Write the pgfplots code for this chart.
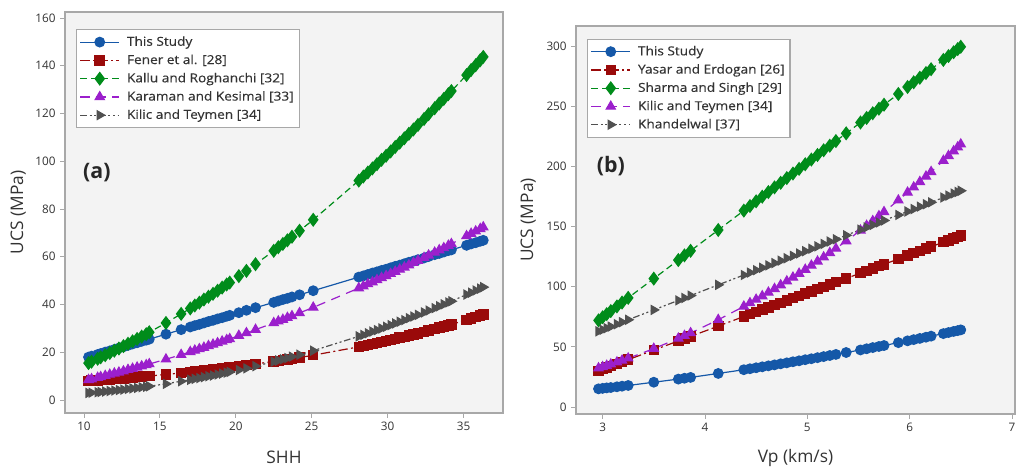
\documentclass[border=0pt]{standalone}
\usepackage{fontspec}
\setmainfont{Open Sans}
\newfontfamily\legfont{Open Sans}[FakeStretch=1.1, FakeBold=0.3]
\usepackage{pgfplots}
\usepackage{pgfplotstable}
\pgfplotsset{compat=1.18}

\definecolor{cStudy}{HTML}{1558A8}
\definecolor{cRed}{HTML}{9A0A0A}
\definecolor{cGreen}{HTML}{008C1A}
\definecolor{cPurple}{HTML}{9B1FCC}
\definecolor{cGray}{HTML}{505050}
\definecolor{bgGray}{HTML}{F3F3F3}
\definecolor{frameGray}{HTML}{A8A8A8}
\definecolor{textGray}{HTML}{333333}

% SHH panel: x  study  fener  kallu  karaman  kilic
\pgfplotstableread{
x    s     f     k      m     t
10.3 18.0  8.0   15.5   8.5   3.0
10.5 18.4  8.1   16.1   8.8   3.1
10.9 19.1  8.3   17.3   9.4   3.3
11.1 19.5  8.4   17.9   9.7   3.4
11.4 20.1  8.5   18.8   10.2  3.6
11.7 20.6  8.7   19.7   10.7  3.8
12.0 21.2  8.8   20.7   11.2  4.0
12.3 21.8  9.0   21.6   11.6  4.2
12.6 22.3  9.1   22.6   12.1  4.4
12.9 22.9  9.3   23.6   12.7  4.7
13.2 23.5  9.5   24.6   13.2  4.9
13.5 24.0  9.6   25.6   13.7  5.1
13.8 24.6  9.8   26.6   14.2  5.4
14.1 25.1  10.0  27.6   14.7  5.6
14.3 25.5  10.1  28.4   15.1  5.8
15.4 27.6  10.7  32.3   17.1  6.8
16.4 29.5  11.4  36.1   19.0  7.9
17.0 30.6  11.8  38.4   20.2  8.5
17.3 31.2  12.0  39.6   20.8  8.9
17.6 31.7  12.2  40.8   21.4  9.2
17.9 32.3  12.4  42.1   22.0  9.6
18.2 32.9  12.6  43.3   22.7  10.0
18.5 33.4  12.8  44.5   23.3  10.3
18.8 34.0  13.1  45.8   23.9  10.7
19.1 34.5  13.3  47.1   24.6  11.1
19.4 35.1  13.5  48.4   25.2  11.5
19.6 35.5  13.7  49.2   25.6  11.8
20.2 36.6  14.2  51.9   27.0  12.6
20.7 37.6  14.6  54.1   28.1  13.3
21.3 38.7  15.1  56.9   29.5  14.2
22.5 40.9  16.2  62.5   32.3  16.1
22.8 41.5  16.4  64.0   33.0  16.6
23.1 42.1  16.7  65.4   33.7  17.1
23.4 42.6  17.0  66.9   34.5  17.6
23.7 43.2  17.3  68.4   35.2  18.2
24.2 44.1  17.8  70.9   36.5  19.0
25.1 45.8  18.8  75.5   38.8  20.7
28.1 51.5  22.3  91.9   46.9  26.7
28.4 52.0  22.7  93.6   47.7  27.3
28.7 52.6  23.1  95.3   48.6  28.0
29.0 53.2  23.5  97.0   49.4  28.7
29.3 53.7  23.9  98.8   50.3  29.3
29.6 54.3  24.3  100.6  51.2  30.0
29.9 54.8  24.7  102.3  52.0  30.7
30.2 55.4  25.2  104.1  52.9  31.4
30.5 56.0  25.6  106.0  53.8  32.1
30.8 56.5  26.1  107.8  54.7  32.8
31.1 57.1  26.5  109.6  55.6  33.5
31.4 57.7  27.0  111.5  56.5  34.3
31.7 58.2  27.4  113.3  57.5  35.0
32.0 58.8  27.9  115.2  58.4  35.7
32.4 59.5  28.6  117.7  59.6  36.7
32.7 60.1  29.1  119.7  60.6  37.5
33.1 60.9  29.7  122.2  61.8  38.5
33.4 61.4  30.3  124.2  62.8  39.3
33.7 62.0  30.8  126.1  63.7  40.1
34.0 62.6  31.3  128.1  64.7  40.9
34.2 62.9  31.7  129.4  65.4  41.4
35.2 64.8  33.6  136.1  68.7  44.2
35.5 65.4  34.2  138.2  69.7  45.0
35.8 65.9  34.7  140.2  70.7  45.9
36.1 66.5  35.4  142.3  71.7  46.7
36.3 66.9  35.8  143.7  72.4  47.3
}\shhdata

% Vp panel: x  study  yasar  sharma  kilic  khandelwal
\pgfplotstableread{
x    s     y      sh     kt     kh
2.96 15.1  30.1   72.0   32.3   62.9
3.00 15.5  31.4   74.6   33.3   64.2
3.04 15.9  32.7   77.2   34.4   65.5
3.08 16.2  33.9   79.7   35.5   66.8
3.14 16.8  35.8   83.6   37.2   68.8
3.19 17.3  37.4   86.8   38.7   70.5
3.25 17.9  39.3   90.7   40.5   72.5
3.50 20.6  47.3   106.7  48.5   80.7
3.74 23.2  54.9   122.1  57.0   88.6
3.80 23.9  56.8   126.0  59.2   90.6
3.86 24.6  58.7   129.8  61.5   92.6
4.13 27.9  67.2   147.1  72.5   101.5
4.38 31.0  75.2   163.2  83.6   109.7
4.44 31.8  77.1   167.0  86.4   111.7
4.50 32.6  79.0   170.9  89.3   113.7
4.56 33.4  80.9   174.8  92.2   115.7
4.62 34.2  82.8   178.6  95.2   117.7
4.68 35.0  84.7   182.5  98.2   119.6
4.74 35.9  86.6   186.3  101.3  121.6
4.80 36.7  88.5   190.2  104.5  123.6
4.86 37.6  90.4   194.0  107.7  125.6
4.92 38.4  92.3   197.9  110.9  127.6
4.98 39.3  94.2   201.7  114.2  129.5
5.04 40.1  96.1   205.6  117.6  131.5
5.10 41.0  98.0   209.4  121.0  133.5
5.16 41.9  99.9   213.3  124.5  135.5
5.22 42.8  101.8  217.1  128.1  137.5
5.28 43.7  103.7  221.0  131.7  139.4
5.38 45.3  106.8  227.4  137.9  142.7
5.52 47.4  111.3  236.4  146.8  147.4
5.58 48.4  113.2  240.2  150.7  149.3
5.64 49.4  115.1  244.1  154.6  151.3
5.70 50.3  117.0  247.9  158.7  153.3
5.75 51.1  118.6  251.2  162.1  155.0
5.89 53.5  123.0  260.1  171.8  159.6
5.98 55.0  125.9  265.9  178.3  162.5
6.04 56.0  127.8  269.8  182.6  164.5
6.10 57.0  129.7  273.6  187.1  166.5
6.16 58.0  131.6  277.5  191.6  168.5
6.21 58.9  133.2  280.7  195.4  170.1
6.33 61.0  137.0  288.4  204.7  174.1
6.38 61.9  138.5  291.6  208.7  175.7
6.43 62.8  140.1  294.8  212.6  177.4
6.47 63.5  141.4  297.4  215.9  178.7
6.50 64.1  142.4  299.3  218.3  179.7
}\vpdata

\pgfplotsset{
  ucs/.style={
    scale only axis,
    axis background/.style={fill=bgGray},
    axis line style={draw=frameGray, line width=0.8pt},
    tick style={draw=frameGray, line width=0.6pt},
    tick align=outside,
    major tick length=3.5pt,
    xtick pos=bottom, ytick pos=left,
    /pgf/number format/assume math mode=true,
    ticklabel style={font=\fontsize{8.8}{10}\selectfont, text=textGray},
    label style={font=\fontsize{13}{15}\selectfont, text=textGray},
    xlabel style={at={(axis description cs:0.5,0)}, anchor=center, yshift=-33pt},
    legend cell align=left,
    legend style={draw=frameGray, fill=white, line width=0.8pt,
      font=\legfont\fontsize{9.3}{11}\selectfont, text=textGray,
      inner xsep=2.5pt, inner ysep=3pt, row sep=1.2pt,
      nodes={inner sep=1.5pt, text height=7.5pt, text depth=2pt},
      /tikz/every odd column/.append style={column sep=4pt}},
    legend image code/.code={\draw[mark repeat=2, mark phase=2]
      plot coordinates {(0pt,0pt) (14.5pt,0pt) (29pt,0pt)};},
    every axis plot/.append style={line width=0.9pt},
  },
  sStudy/.style={color=cStudy, solid, mark=*, mark size=3.6pt},
  sRed/.style={color=cRed, dash pattern=on 7pt off 2.5pt on 1.5pt off 2.5pt,
    mark=square*, mark size=3.5pt, mark options={solid}},
  sGreen/.style={color=cGreen, dash pattern=on 5pt off 3pt,
    mark=diamond*, mark size=4.6pt, mark options={solid}},
  sPurple/.style={color=cPurple, dash pattern=on 7pt off 5pt,
    mark=triangle*, mark size=3.9pt, mark options={solid}},
  sGray/.style={color=cGray, dash pattern=on 5pt off 2pt on 1.5pt off 2pt on 1.5pt off 2pt,
    mark=triangle*, mark size=3.7pt, mark options={solid, rotate=-90}},
}

\begin{document}
\begin{tikzpicture}
\useasboundingbox (0,0) rectangle (762.75pt,350.25pt);

\begin{axis}[ucs,
  at={(48.75pt,40.5pt)}, anchor=south west,
  width=328.5pt, height=300.75pt,
  xmin=8.75, xmax=37.6, ymin=-5.4, ymax=162.5,
  xtick={10,15,...,35}, ytick={0,20,...,160},
  xlabel={SHH}, ylabel={UCS (MPa)},
  ylabel style={at={(axis description cs:-0.107,0.5)}, anchor=center},
  legend style={at={(0.025,0.957)}, anchor=north west},
]
\addplot[sStudy] table[x=x, y=s] {\shhdata};
\addlegendentry{This Study}
\addplot[sRed] table[x=x, y=f] {\shhdata};
\addlegendentry{Fener et al. [28]}
\addplot[sGreen] table[x=x, y=k] {\shhdata};
\addlegendentry{Kallu and Roghanchi [32]}
\addplot[sPurple] table[x=x, y=m] {\shhdata};
\addlegendentry{Karaman and Kesimal [33]}
\addplot[sGray] table[x=x, y=t] {\shhdata};
\addlegendentry{Kilic and Teymen [34]}
\node[anchor=west, inner sep=0pt, font=\fontsize{16}{18}\selectfont\bfseries, text=black!85]
  at (rel axis cs:0.041,0.600) {(a)};
\end{axis}

\begin{axis}[ucs,
  at={(432pt,39.75pt)}, anchor=south west,
  width=329.25pt, height=291pt,
  xmin=2.74, xmax=7.03, ymin=-5.8, ymax=316.6,
  xtick={3,4,...,7}, ytick={0,50,...,300},
  xlabel={Vp (km/s)}, ylabel={UCS (MPa)},
  ylabel style={at={(axis description cs:-0.109,0.5)}, anchor=center},
  legend style={at={(0.025,0.967)}, anchor=north west},
]
\addplot[sStudy] table[x=x, y=s] {\vpdata};
\addlegendentry{This Study}
\addplot[sRed] table[x=x, y=y] {\vpdata};
\addlegendentry{Yasar and Erdogan [26]}
\addplot[sGreen] table[x=x, y=sh] {\vpdata};
\addlegendentry{Sharma and Singh [29]}
\addplot[sPurple] table[x=x, y=kt] {\vpdata};
\addlegendentry{Kilic and Teymen [34]}
\addplot[sGray] table[x=x, y=kh] {\vpdata};
\addlegendentry{Khandelwal [37]}
\node[anchor=west, inner sep=0pt, font=\fontsize{16}{18}\selectfont\bfseries, text=black!85]
  at (rel axis cs:0.047,0.639) {(b)};
\end{axis}
\end{tikzpicture}
\end{document}
